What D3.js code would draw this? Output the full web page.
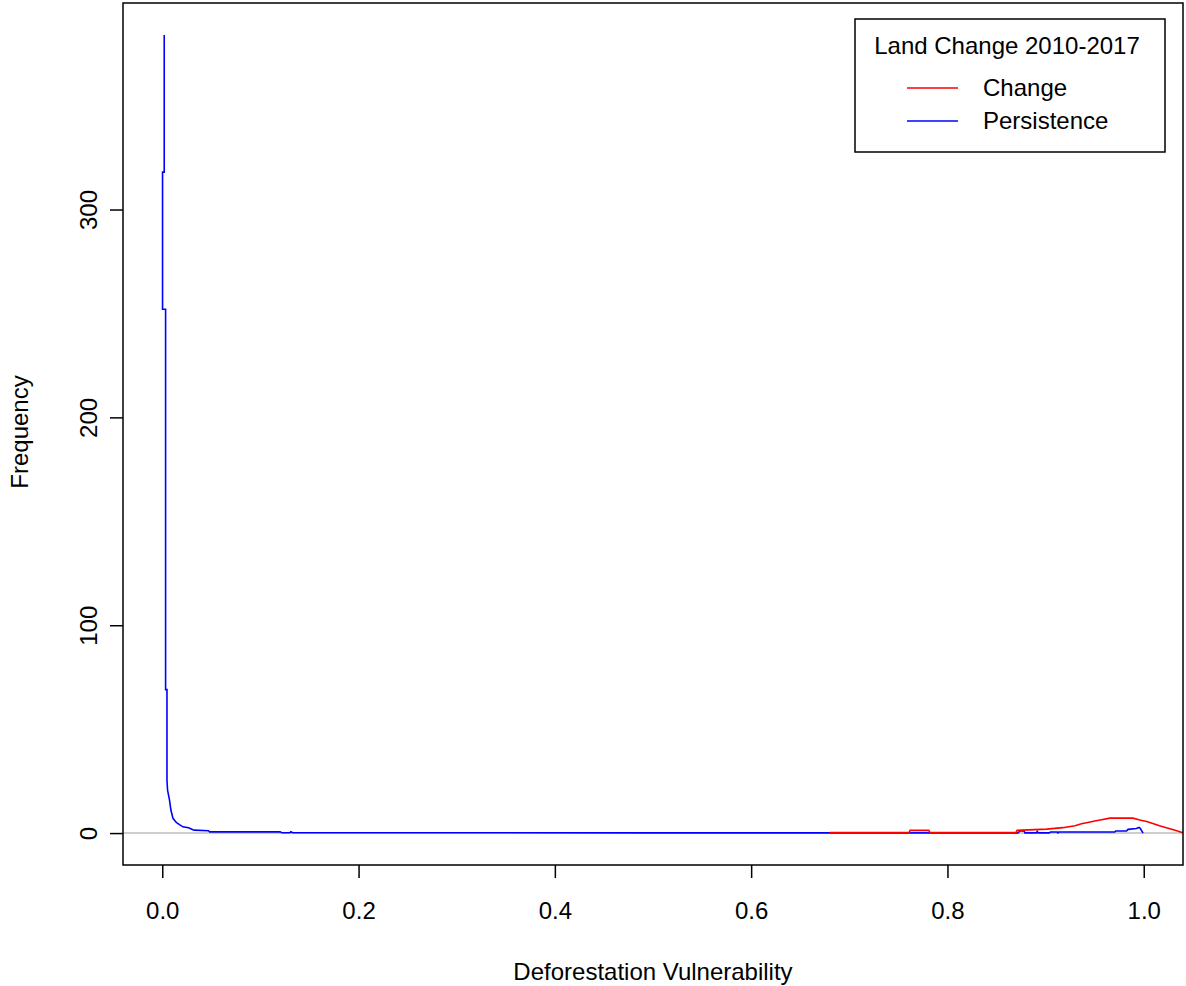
<!DOCTYPE html>
<html>
<head>
<meta charset="utf-8">
<script src="https://cdn.jsdelivr.net/npm/d3@7"></script>
<style>
  body { margin: 0; background: #fff; }
  svg { display: block; font-family: "Liberation Sans", Arial, sans-serif; }
</style>
</head>
<body>
<svg width="1186" height="986"></svg>
<script>
// Persistence (blue) density curve
const persistX = [0.002, 0.002, 0.0003, 0.0003, 0.0034, 0.0034, 0.0048, 0.0048, 0.0054, 0.0074, 0.0088, 0.0109, 0.0143, 0.0183, 0.0211, 0.0268, 0.0312, 0.0326, 0.0471, 0.0482, 0.120, 0.122, 0.130, 0.131, 0.133, 0.50, 0.872, 0.8737, 0.878, 0.879, 0.8907, 0.8915, 0.8925, 0.9036, 0.905, 0.9117, 0.9125, 0.9135, 0.9705, 0.9715, 0.9824, 0.984, 0.9925, 0.9952, 0.9966, 0.9993]
const persistY = [384, 318, 318, 252, 252, 69, 69, 25.5, 20.7, 15.9, 11.1, 7.1, 5.1, 3.8, 3.0, 2.6, 1.6, 1.4, 1.1, 0.6, 0.6, 0.15, 0.15, 0.6, 0.15, 0.1, 0.1, 1.0, 1.0, 0.1, 0.1, 0.8, 0.1, 0.1, 0.5, 0.5, 0.1, 0.5, 0.5, 1.0, 1.0, 1.8, 2.2, 2.7, 2.2, 0]

// Change (red) density curve
const changeX = [0.680, 0.761, 0.762, 0.781, 0.782, 0.870, 0.871, 0.901, 0.9175, 0.930, 0.9365, 0.943, 0.950, 0.957, 0.9654, 0.989, 0.996, 1.003, 1.010, 1.016, 1.023, 1.032, 1.039, 1.045]
const changeY = [0.3, 0.3, 1.3, 1.3, 0.3, 0.3, 1.3, 1.9, 2.6, 3.5, 4.5, 5.1, 5.8, 6.4, 7.2, 7.2, 6.25, 5.6, 4.5, 3.5, 2.6, 1.4, 0.3, 0]

const xTicks = [0, 0.2, 0.4, 0.6, 0.8, 1.0]
const yTicks = [0, 100, 200, 300]
const legendTitle = "Land Change 2010-2017"
const seriesNames = ["Change", "Persistence"]
const seriesColors = ["#ff0000", "#0000ff"]

let fontSize = 24
let box = { left: 123, right: 1183, top: 3, bottom: 865 }
let svg = d3.select("svg")

let x = d3.scaleLinear().domain([-0.04, 1.04]).range([box.left, box.right])
let y = d3.scaleLinear().domain([-15.36, 399.36]).range([box.bottom, box.top])

svg.append("clipPath").attr("id", "plotClip")
    .append("rect")
    .attr("x", box.left).attr("y", box.top)
    .attr("width", box.right - box.left).attr("height", box.bottom - box.top)

// zero reference line
svg.append("line")
    .attr("x1", box.left).attr("x2", box.right)
    .attr("y1", y(0)).attr("y2", y(0))
    .attr("stroke", "#bebebe").attr("stroke-width", 1.5)

let line = d3.line()
    .x(function(d) { return x(d[0]) })
    .y(function(d) { return y(d[1]) })

let persistData = persistX.map(function(v, i) { return [v, persistY[i]] })
let changeData = changeX.map(function(v, i) { return [v, changeY[i]] })

let plot = svg.append("g").attr("clip-path", "url(#plotClip)")
plot.append("path")
    .datum(persistData)
    .attr("fill", "none")
    .attr("stroke", seriesColors[1])
    .attr("stroke-width", 1.6)
    .attr("d", line)
plot.append("path")
    .datum(changeData)
    .attr("fill", "none")
    .attr("stroke", seriesColors[0])
    .attr("stroke-width", 1.6)
    .attr("d", line)

// plot box
svg.append("rect")
    .attr("x", box.left).attr("y", box.top)
    .attr("width", box.right - box.left).attr("height", box.bottom - box.top)
    .attr("fill", "none").attr("stroke", "#000").attr("stroke-width", 1.5)

// x axis
let xAxis = svg.append("g")
    .attr("transform", "translate(0," + box.bottom + ")")
    .call(d3.axisBottom(x).tickValues(xTicks).tickSize(13).tickPadding(24).tickFormat(d3.format(".1f")))
xAxis.select(".domain").remove()
xAxis.selectAll("line").attr("stroke-width", 1.5)
xAxis.selectAll("text").attr("font-size", fontSize).attr("fill", "#000")
    .attr("font-family", "Liberation Sans, Arial, sans-serif")

// y axis
let yAxis = svg.append("g")
    .attr("transform", "translate(" + box.left + ",0)")
    .call(d3.axisLeft(y).tickValues(yTicks).tickSize(13).tickFormat(d3.format("d")))
yAxis.select(".domain").remove()
yAxis.selectAll("line").attr("stroke-width", 1.5)
yAxis.selectAll("text")
    .attr("font-size", fontSize).attr("fill", "#000")
    .attr("font-family", "Liberation Sans, Arial, sans-serif")
    .attr("x", null).attr("dy", null)
    .attr("text-anchor", "middle")
    .attr("transform", "translate(-26,0) rotate(-90)")

// axis titles
svg.append("text")
    .attr("x", (x(0) + x(1)) / 2).attr("y", 980)
    .attr("text-anchor", "middle").attr("font-size", fontSize)
    .text("Deforestation Vulnerability")
svg.append("text")
    .attr("transform", "translate(28,432) rotate(-90)")
    .attr("text-anchor", "middle").attr("font-size", fontSize)
    .text("Frequency")

// legend
let legend = svg.append("g")
legend.append("rect")
    .attr("x", 855).attr("y", 19).attr("width", 310).attr("height", 133)
    .attr("fill", "#fff").attr("stroke", "#000").attr("stroke-width", 1.5)
legend.append("text")
    .attr("x", 1007).attr("y", 54).attr("text-anchor", "middle").attr("font-size", fontSize)
    .text(legendTitle)
seriesNames.forEach(function(name, i) {
    let ly = 88 + i * 33
    legend.append("line")
        .attr("x1", 907).attr("x2", 958).attr("y1", ly).attr("y2", ly)
        .attr("stroke", seriesColors[i]).attr("stroke-width", 1.6)
    legend.append("text")
        .attr("x", 983).attr("y", ly + 8).attr("font-size", fontSize)
        .text(name)
})
</script>
</body>
</html>
